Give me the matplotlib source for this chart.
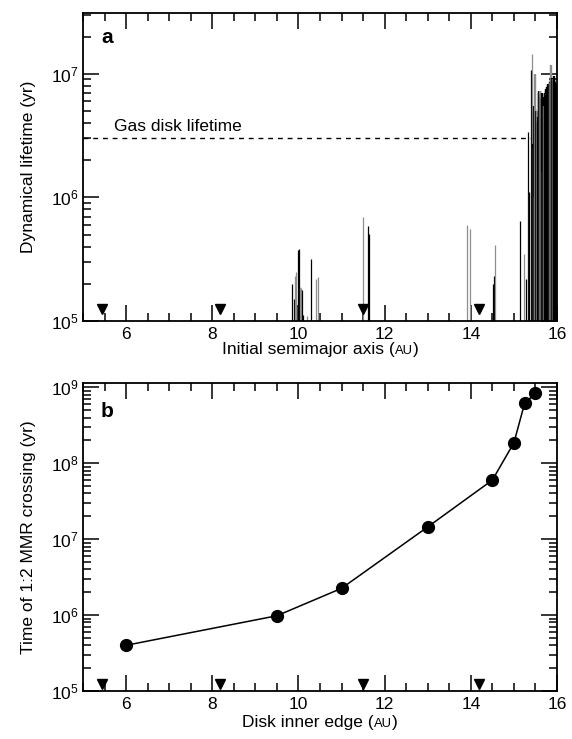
import numpy as np
import matplotlib
matplotlib.use("Agg")
import matplotlib.pyplot as plt
from matplotlib.ticker import LogLocator, MultipleLocator, NullFormatter
from matplotlib.offsetbox import TextArea, HPacker, AnchoredOffsetbox

plt.rcParams['font.family'] = ['Liberation Sans', 'DejaVu Sans']
plt.rcParams['mathtext.fontset'] = 'custom'
plt.rcParams['mathtext.rm'] = 'Liberation Sans'
plt.rcParams['mathtext.it'] = 'Liberation Sans:italic'
plt.rcParams['mathtext.bf'] = 'Liberation Sans:bold'

# ---------------- data ----------------
# panel a: (initial semimajor axis, dynamical lifetime, colour code) for sparse bars
sparse_x = [9.86, 9.90, 9.93, 9.95, 9.99, 10.01, 10.03, 10.06, 10.09, 10.10, 10.20, 10.28, 10.40, 10.45,
            11.50, 11.62, 11.64,
            13.92, 13.98,
            14.51, 14.53, 14.57,
            15.14, 15.24, 15.27, 15.32, 15.35, 15.36, 15.40, 15.43, 15.44]
sparse_t = [2.0e5, 1.5e5, 2.3e5, 2.5e5, 3.76e5, 3.8e5, 1.9e5, 1.84e5, 1.78e5, 1.12e5, 1.1e5, 3.16e5, 2.17e5, 2.29e5,
            6.9e5, 5.9e5, 5.1e5,
            6.0e5, 5.5e5,
            2.0e5, 2.3e5, 4.1e5,
            6.4e5, 3.5e5, 2.2e5, 3.4e6, 1.07e6, 1.1e6, 1.07e7, 1.45e7, 2.7e6]
sparse_c = ['k', 'k', 'g', 'g', 'k', 'k', 'g', 'g', 'k', 'k', 'g', 'k', 'g', 'g',
            'g', 'k', 'k',
            'g', 'g',
            'k', 'k', 'g',
            'k', 'g', 'k', 'k', 'g', 'k', 'k', 'g', 'k']

# panel a: dense bars near the outer disk edge
dense_x = [15.45, 15.46, 15.47, 15.48, 15.49, 15.50, 15.51, 15.52, 15.53, 15.54,
           15.55, 15.56, 15.57, 15.58, 15.59, 15.60, 15.61, 15.62, 15.63, 15.64,
           15.65, 15.66, 15.67, 15.68, 15.69, 15.70, 15.71, 15.72, 15.73, 15.74,
           15.75, 15.76, 15.77, 15.78, 15.79, 15.80, 15.81, 15.82, 15.83, 15.84,
           15.85, 15.86, 15.87, 15.88, 15.89, 15.90, 15.91, 15.92, 15.93, 15.94,
           15.95, 15.96, 15.97, 15.98, 15.99]
dense_t = [2.7e6, 2.5e6, 5.5e6, 5.2e6, 1.0e6, 1.0e7, 4.2e6, 5.0e6, 4.8e6, 5.0e6,
           4.0e6, 9.0e5, 4.5e6, 7.0e6, 7.3e6, 7.2e6, 7.3e6, 6.8e6, 6.5e6, 7.0e6,
           7.0e6, 6.2e6, 1.6e6, 6.0e6, 6.5e6, 5.5e6, 1.5e6, 6.8e6, 7.0e6, 7.2e6,
           7.5e6, 7.3e6, 7.8e6, 8.0e6, 7.6e6, 8.2e6, 8.3e6, 8.0e6, 8.5e6, 8.4e6,
           8.7e6, 9.0e6, 1.17e7, 8.8e6, 9.2e6, 8.6e6, 9.0e6, 9.5e6, 8.8e6, 9.0e6,
           8.5e6, 8.0e6, 8.3e6, 7.8e6, 7.5e6]
dense_c = ['k', 'g', 'k', 'k', 'g', 'g', 'g', 'k', 'k', 'g',
           'k', 'g', 'k', 'k', 'k', 'k', 'g', 'k', 'k', 'g',
           'k', 'k', 'g', 'k', 'k', 'g', 'g', 'k', 'k', 'k',
           'k', 'k', 'k', 'k', 'k', 'k', 'k', 'k', 'k', 'g',
           'k', 'k', 'g', 'k', 'k', 'k', 'g', 'k', 'k', 'k',
           'k', 'k', 'k', 'k', 'k']

gas_lifetime = 3.0e6

# planet initial positions (triangles)
planet_x = [5.45, 8.18, 11.5, 14.2]

# panel b
edge_x = [6.0, 9.5, 11.0, 13.0, 14.5, 15.0, 15.25, 15.5]
cross_t = [4.0e5, 9.8e5, 2.25e6, 1.45e7, 6.0e7, 1.86e8, 6.2e8, 8.3e8]

# ---------------- figure ----------------
W, H = 572, 739
fig = plt.figure(figsize=(W / 100, H / 100), dpi=100)
L, R = 83 / W, 557 / W
axa = fig.add_axes([L, 1 - 321 / H, R - L, 308 / H])
axb = fig.add_axes([L, 1 - 691 / H, R - L, 308 / H])

cmap = {'k': 'black', 'g': '#8e8e8e'}
FS = 12.5


def style(ax):
    ax.set_xscale('linear')
    ax.set_yscale('log')
    ax.set_xlim(5, 16)
    ax.xaxis.set_major_locator(MultipleLocator(2))
    ax.xaxis.set_minor_locator(MultipleLocator(0.5))
    ax.yaxis.set_major_locator(LogLocator(base=10, numticks=20))
    ax.yaxis.set_minor_locator(LogLocator(base=10, subs=np.arange(2, 10), numticks=20))
    ax.yaxis.set_minor_formatter(NullFormatter())
    ax.tick_params(which='both', direction='in', top=True, right=True, width=1.1)
    ax.tick_params(which='major', length=11.5, labelsize=FS, pad=4.5)
    ax.tick_params(which='minor', length=5.8)
    ax.tick_params(axis='y', which='major', pad=3)
    for s in ax.spines.values():
        s.set_linewidth(1.3)


def au_label(ax, main, y):
    t1 = TextArea(main + " (", textprops=dict(size=FS))
    t2 = TextArea("AU", textprops=dict(size=FS * 0.75))
    t3 = TextArea(")", textprops=dict(size=FS))
    box = HPacker(children=[t1, t2, t3], align="baseline", pad=0, sep=0)
    ab = AnchoredOffsetbox(loc='upper center', child=box, pad=0, frameon=False,
                           bbox_to_anchor=(0.5, y), bbox_transform=ax.transAxes, borderpad=0)
    ax.add_artist(ab)


# ---- panel a ----
style(axa)
axa.set_ylim(1e5, 3.1e7)
axa.hlines(gas_lifetime, 5, 16, colors='black', linestyles=(0, (3.5, 3.5)), lw=1.0, zorder=1)
axa.text(5.73, 3.74e6, "Gas disk lifetime", fontsize=FS, va='center', ha='left')
axa.vlines(sparse_x, 1e5, sparse_t, colors=[cmap[c] for c in sparse_c], lw=0.9, zorder=2)
axa.vlines(dense_x, 1e5, dense_t, colors=[cmap[c] for c in dense_c], lw=1.7, zorder=2)
axa.plot(planet_x, [1.24e5] * len(planet_x), 'v', color='black', ms=7.5, zorder=3, clip_on=False)
axa.set_ylabel("Dynamical lifetime (yr)", fontsize=FS, labelpad=11)
au_label(axa, "Initial semimajor axis", -0.068)
axa.text(0.038, 0.921, "a", transform=axa.transAxes, fontsize=15, fontweight='bold', va='center', ha='left')

# ---- panel b ----
style(axb)
axb.set_ylim(1e5, 1.14e9)
axb.plot(edge_x, cross_t, '-o', color='black', lw=1.1, ms=8.5, zorder=3)
axb.plot(planet_x, [1.25e5] * len(planet_x), 'v', color='black', ms=7.0, zorder=3, clip_on=False)
axb.set_ylabel("Time of 1:2 MMR crossing (yr)", fontsize=FS, labelpad=11)
au_label(axb, "Disk inner edge", -0.078)
axb.text(0.038, 0.907, "b", transform=axb.transAxes, fontsize=15, fontweight='bold', va='center', ha='left')

fig.savefig("out.png", dpi=100)
